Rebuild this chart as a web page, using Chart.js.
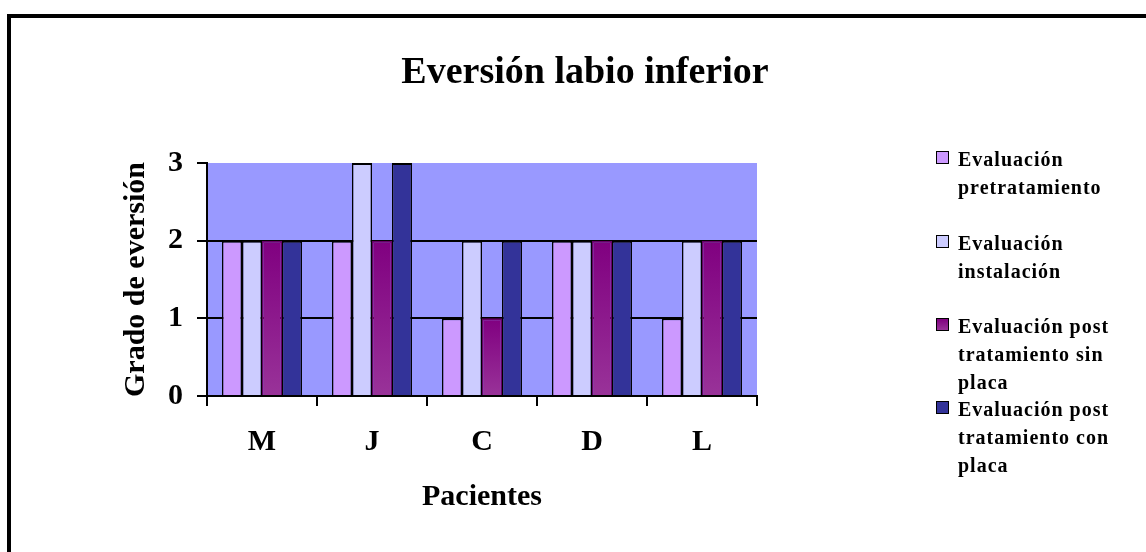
<!DOCTYPE html>
<html>
<head>
<meta charset="utf-8">
<script src="https://cdn.jsdelivr.net/npm/chart.js@4"></script>
<style>
  html, body { margin: 0; padding: 0; background: #fff; overflow: hidden; }
  #wrap { position: relative; width: 1146px; height: 552px; }
  #frame { position: absolute; left: 7px; top: 14px; width: 1200px; height: 600px;
           border-left: 4px solid #000; border-top: 4px solid #000; }
  #chart { position: absolute; left: 0; top: 0; }
  #title { position: absolute; left: 585px; top: 51px; transform: translateX(-50%);
           font: bold 38px "Liberation Serif", "Times New Roman", serif; line-height: 38px;
           white-space: nowrap; color: #000; }
  .leg { position: absolute; left: 936px; font: bold 20px "Liberation Serif", "Times New Roman", serif;
         line-height: 28px; letter-spacing: 1px; color: #000; }
  .leg .sw { position: absolute; left: 0; top: 6px; width: 11px; height: 11px; border: 1.5px solid #000; }
  .leg .tx { margin-left: 22px; white-space: nowrap; }
</style>
</head>
<body>
<div id="wrap">
  <div id="frame"></div>
  <canvas id="chart" width="1146" height="552"></canvas>
  <div id="title">Eversión labio inferior</div>
  <div id="legend"></div>
</div>
<script>
const patients = ['M', 'J', 'C', 'D', 'L'];
const pretratamiento = [2, 2, 1, 2, 1];
const instalacion = [2, 3, 2, 2, 2];
const postSinPlaca = [2, 2, 1, 2, 2];
const postConPlaca = [2, 3, 2, 2, 2];
const yTicks = [0, 1, 2, 3];
const legendLines = [
  ['Evaluación', 'pretratamiento'],
  ['Evaluación', 'instalación'],
  ['Evaluación post', 'tratamiento sin', 'placa'],
  ['Evaluación post', 'tratamiento con', 'placa'],
];
const legendTops = [145, 229, 312, 395];

const serif = '"Liberation Serif", "Times New Roman", serif';

function barGradient(context) {
  const chart = context.chart;
  const { ctx, chartArea, scales } = chart;
  if (!chartArea || context.parsed == null) return '#800080';
  const top = scales.y.getPixelForValue(context.parsed.y);
  const bottom = scales.y.getPixelForValue(0);
  const g = ctx.createLinearGradient(0, top, 0, bottom);
  g.addColorStop(0, '#800080');
  g.addColorStop(1, '#993399');
  return g;
}

const plotBackground = {
  id: 'plotBackground',
  beforeDraw(chart) {
    const { ctx, chartArea } = chart;
    ctx.save();
    ctx.fillStyle = '#9999FF';
    ctx.fillRect(chartArea.left, chartArea.top, chartArea.right - chartArea.left, chartArea.bottom - chartArea.top);
    ctx.restore();
  }
};

const barBorder = { top: 2, left: 1.5, right: 1.5, bottom: 0 };

const chart = new Chart(document.getElementById('chart'), {
  type: 'bar',
  data: {
    labels: patients,
    datasets: [
      { label: legendLines[0].join(' '), data: pretratamiento, backgroundColor: '#CC99FF', borderColor: '#000', borderWidth: barBorder },
      { label: legendLines[1].join(' '), data: instalacion, backgroundColor: '#CCCCFF', borderColor: '#000', borderWidth: barBorder },
      { label: legendLines[2].join(' '), data: postSinPlaca, backgroundColor: barGradient, borderColor: '#660066', borderWidth: barBorder },
      { label: legendLines[3].join(' '), data: postConPlaca, backgroundColor: '#333399', borderColor: '#000', borderWidth: barBorder },
    ],
  },
  options: {
    responsive: false,
    animation: false,
    layout: { padding: { left: 100, top: 163, right: 389, bottom: 26 } },
    datasets: { bar: { categoryPercentage: 0.727, barPercentage: 1 } },
    plugins: { legend: { display: false }, tooltip: { enabled: false } },
    scales: {
      x: {
        afterFit(scale) { scale.height = 130; },
        grid: { display: true, drawOnChartArea: false, offset: true, color: '#000', lineWidth: 2, tickLength: 10 },
        border: { display: true, color: '#000', width: 2 },
        ticks: { color: '#000', padding: 18, font: { family: serif, size: 30, weight: 'bold' } },
        title: { display: true, text: 'Pacientes', color: '#000', padding: { top: 0, bottom: 11 },
                 font: { family: serif, size: 30, weight: 'bold' } },
      },
      y: {
        min: 0,
        max: 3,
        afterFit(scale) { scale.width = 107; },
        afterBuildTicks(scale) { scale.ticks = yTicks.map(v => ({ value: v })); },
        grid: {
          color: (c) => (c.tick && c.tick.value === 3 ? 'rgba(0,0,0,0)' : '#000'),
          tickColor: '#000', lineWidth: 2, tickLength: 10,
        },
        border: { display: true, color: '#000', width: 2 },
        ticks: { color: '#000', padding: 14, font: { family: serif, size: 30, weight: 'bold' } },
        title: { display: true, text: 'Grado de eversión', color: '#000', padding: { top: 18, bottom: 0 },
                 font: { family: serif, size: 30, weight: 'bold' } },
      },
    },
  },
  plugins: [plotBackground],
});

// legend drawn from the chart's datasets
const legend = document.getElementById('legend');
chart.data.datasets.forEach((ds, i) => {
  const item = document.createElement('div');
  item.className = 'leg';
  item.style.top = legendTops[i] + 'px';
  const sw = document.createElement('div');
  sw.className = 'sw';
  sw.style.background = i === 2 ? 'linear-gradient(#800080, #993399)' : ds.backgroundColor;
  const tx = document.createElement('div');
  tx.className = 'tx';
  tx.innerHTML = legendLines[i].join('<br>');
  item.appendChild(sw);
  item.appendChild(tx);
  legend.appendChild(item);
});
</script>
</body>
</html>
